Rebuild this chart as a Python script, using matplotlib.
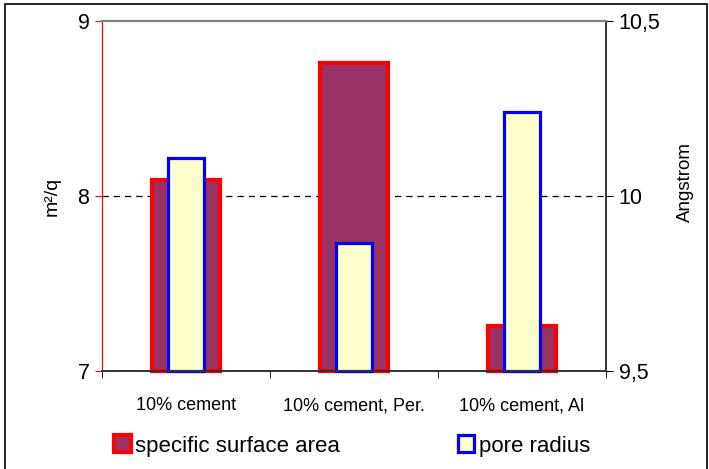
import numpy as np
import matplotlib.pyplot as plt
from matplotlib.patches import Rectangle, Patch

plt.rcParams['font.family'] = ['Liberation Sans', 'DejaVu Sans']

categories = ['10% cement', '10% cement, Per.', '10% cement, Al']
surface_area = [8.09, 8.76, 7.26]     # m²/q, left axis
pore_radius = [10.11, 9.866, 10.24]   # Angstrom, right axis

fig = plt.figure(figsize=(7.09, 4.69), dpi=100)
ax = fig.add_axes([102/709, 98/469, 504/709, 350/469])
ax2 = ax.twinx()

x = np.arange(len(categories))

# dashed line at 8 behind bars
ax.axhline(8, color='black', lw=0.9, dashes=(5, 4), zorder=1)

ax.bar(x, np.array(surface_area) - 7, bottom=7, width=0.41,
       color='#993366', edgecolor='#ff0000', linewidth=3.0, zorder=2, clip_on=False)
ax2.bar(x, np.array(pore_radius) - 9.5, bottom=9.5, width=0.21,
        color='#ffffcc', edgecolor='#0000ff', linewidth=2.3, zorder=2, clip_on=False)

ax.set_xlim(-0.5, 2.5)
ax.set_ylim(7, 9)
ax2.set_ylim(9.5, 10.5)

ax.set_yticks([7, 8, 9])
ax.set_yticklabels(['7', '8', '9'], fontsize=15.5)
ax2.set_yticks([9.5, 10, 10.5])
ax2.set_yticklabels(['9,5', '10', '10,5'], fontsize=15.5)

ax.set_xticks(x)
ax.set_xticklabels(categories, fontsize=13)
ax.tick_params(axis='x', which='major', length=0, pad=19)
ax.set_xticks([-0.5, 0.5, 1.5, 2.5], minor=True)
ax.tick_params(axis='x', which='minor', length=5, direction='out', color='black')

ax.tick_params(axis='y', colors='black', length=5, direction='out', pad=4)
ax.tick_params(axis='y', color='#ff0000')
ax2.tick_params(axis='y', length=5, direction='out', color='black', pad=4)

for a in (ax, ax2):
    a.spines['top'].set_color('#808080')
    a.spines['top'].set_linewidth(1.5)
    a.spines['bottom'].set_color('#333333')
    a.spines['bottom'].set_linewidth(1.2)
    a.spines['left'].set_color('#ff0000')
    a.spines['right'].set_color('#333333')
    a.spines['right'].set_linewidth(1.2)

ax.set_ylabel('m²/q', fontsize=14, labelpad=12)
ax2.set_ylabel('Angstrom', fontsize=13.5, labelpad=12)
ax2.yaxis.set_label_coords(1.14, 0.54)

handles = [Patch(facecolor='#993366', edgecolor='#ff0000', linewidth=3),
           Patch(facecolor='#ffffcc', edgecolor='#0000ff', linewidth=2.3)]
fig.legend(handles, ['specific surface area', 'pore radius'],
           loc='center left', bbox_to_anchor=(105/709, 23/469), ncol=2,
           frameon=False, fontsize=16, handlelength=0.75, handleheight=0.8,
           handletextpad=0.2, columnspacing=5.3, borderaxespad=0)

fig.patches.append(Rectangle((5/709, -0.1), 702/709, 1.1 - 4/469, transform=fig.transFigure,
                             fill=False, edgecolor='black', linewidth=1.2))

fig.savefig('out.png', dpi=100)
